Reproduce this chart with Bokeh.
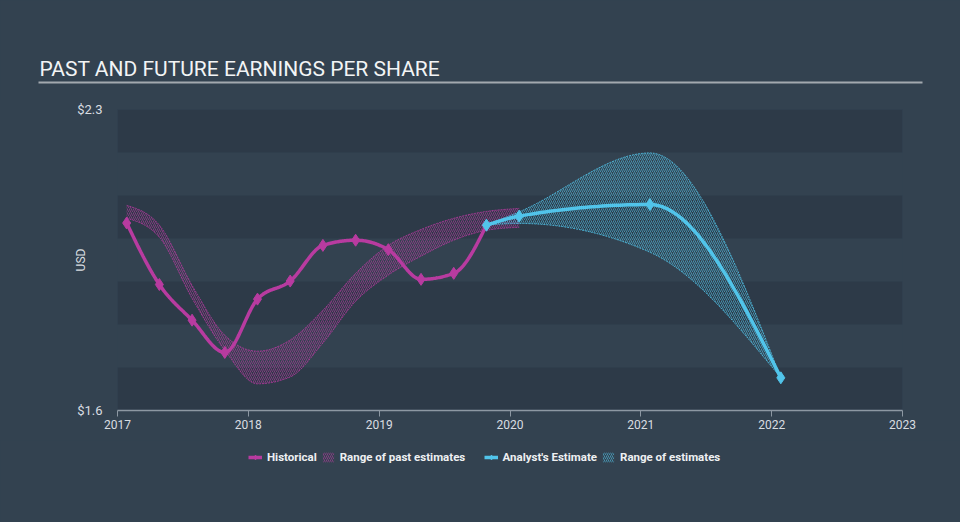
import numpy as np
from bokeh.plotting import figure
from bokeh.layouts import column
from bokeh.models import (Range1d, FixedTicker, NumeralTickFormatter,
                          BoxAnnotation, Legend, LegendItem)
from bokeh.core.properties import value
from bokeh.embed import file_html
from bokeh.resources import INLINE

# ---------------- data ----------------
hist_dates = [2017.07, 2017.32, 2017.57, 2017.82, 2018.07, 2018.32, 2018.57,
              2018.82, 2019.07, 2019.32, 2019.57, 2019.82]
hist_eps = [2.036, 1.893, 1.810, 1.735, 1.859, 1.901, 1.984, 1.996, 1.974,
            1.905, 1.919, 2.031]

past_dates = [2017.07, 2017.32, 2017.57, 2017.82, 2018.07, 2018.32, 2018.57,
              2018.82, 2019.07, 2019.32, 2019.57, 2019.82, 2020.07]
past_high = [2.077, 2.031, 1.891, 1.775, 1.738, 1.764, 1.833, 1.919, 1.984,
             2.021, 2.047, 2.063, 2.070]
past_low = [2.047, 2.003, 1.861, 1.740, 1.662, 1.678, 1.757, 1.854, 1.915,
            1.959, 1.996, 2.019, 2.026]

fc_dates = [2019.82, 2020.07, 2021.07, 2022.07]
fc_eps = [2.031, 2.052, 2.079, 1.676]
fc_high = [2.031, 2.062, 2.199, 1.676]
fc_low = [2.031, 2.035, 1.968, 1.676]

year_ticks = [2017, 2018, 2019, 2020, 2021, 2022, 2023]
y_label_ticks = [1.6, 2.3]
band_edges = [1.6, 1.7, 1.8, 1.9, 2.0, 2.1, 2.2, 2.3]

TITLE = "PAST AND FUTURE EARNINGS PER SHARE"
legend_labels = ["Historical", "Range of past estimates",
                 "Analyst's Estimate", "Range of estimates"]

# ---------------- styling ----------------
W = 960
TOP_H, MAIN_H, BOT_H = 100, 340, 82
BG = "#334250"
BAND_DARK = "#2d3a48"
MAG = "#b83ba0"
BLUE = "#51c4ea"
TXT = "#d9dde1"
FONT = "Roboto"
CSS_BG = {"background-color": BG}


def monotone_curve(xs, ys, n=30):
    """Monotone cubic (d3 curveMonotoneX style) rendering of a series."""
    x = np.asarray(xs, float)
    y = np.asarray(ys, float)
    h = np.diff(x)
    s = np.diff(y) / h
    m = len(x)
    t = np.zeros(m)
    sg = lambda v: -1.0 if v < 0 else 1.0
    for i in range(1, m - 1):
        p = (s[i - 1] * h[i] + s[i] * h[i - 1]) / (h[i - 1] + h[i])
        t[i] = (sg(s[i - 1]) + sg(s[i])) * min(abs(s[i - 1]), abs(s[i]), 0.5 * abs(p))
    if m > 2:
        t[0] = (3 * s[0] - t[1]) / 2
        t[-1] = (3 * s[-1] - t[-2]) / 2
    else:
        t[:] = s[0]
    u = np.linspace(0, 1, n + 1)[1:]
    ox, oy = [x[0]], [y[0]]
    for i in range(m - 1):
        h00 = 2 * u**3 - 3 * u**2 + 1
        h10 = u**3 - 2 * u**2 + u
        h01 = -2 * u**3 + 3 * u**2
        h11 = u**3 - u**2
        yy = h00 * y[i] + h10 * h[i] * t[i] + h01 * y[i + 1] + h11 * h[i] * t[i + 1]
        xx = x[i] + u * h[i]
        ox.extend(xx.tolist())
        oy.extend(yy.tolist())
    return ox, oy


def blank(height, xr, yr):
    f = figure(width=W, height=height, output_backend="svg", toolbar_location=None,
               x_axis_type=None, y_axis_type=None, x_range=xr, y_range=yr,
               min_border=0, frame_align=False, styles=CSS_BG)
    f.border_fill_color = None
    f.background_fill_color = BG
    f.outline_line_color = None
    f.grid.grid_line_color = None
    return f


band_style = dict(hatch_pattern="/", hatch_alpha=0.6, hatch_scale=4,
                  hatch_weight=1, fill_alpha=0.0)

# ---------------- title strip ----------------
top = blank(TOP_H, Range1d(0, W), Range1d(TOP_H, 0))
top.text(x=[39], y=[68], text=[TITLE], text_font=value(FONT),
         text_font_size="21px", text_color="#f2f4f5", text_baseline="alphabetic")
top.segment(x0=[38], y0=[82], x1=[922], y1=[82], line_color="#a3a9af", line_width=2)

# ---------------- main chart ----------------
p = figure(width=W, height=MAIN_H, output_backend="svg", toolbar_location=None,
           x_range=Range1d(year_ticks[0], year_ticks[-1]),
           y_range=Range1d(band_edges[0], band_edges[-1]),
           min_border_left=117, min_border_right=58,
           min_border_top=9, min_border_bottom=30,
           frame_align=False, styles=CSS_BG)
p.border_fill_color = None
p.background_fill_color = BG
p.outline_line_color = None
p.xgrid.grid_line_color = None
p.ygrid.grid_line_color = None

for i in range(0, len(band_edges) - 1, 2):
    p.add_layout(BoxAnnotation(bottom=band_edges[i], top=band_edges[i + 1],
                               fill_color=BAND_DARK, fill_alpha=1.0,
                               line_color=None, level="underlay"))

px, ph = monotone_curve(past_dates, past_high)
_, pl = monotone_curve(past_dates, past_low)
p.varea(x=px, y1=pl, y2=ph, fill_color=MAG, hatch_color=MAG, **band_style)
p.line(px, ph, line_color=MAG, line_width=1, line_dash="2 1", line_alpha=0.8)
p.line(px, pl, line_color=MAG, line_width=1, line_dash="2 1", line_alpha=0.8)

fx, fh = monotone_curve(fc_dates, fc_high)
_, fl = monotone_curve(fc_dates, fc_low)
p.varea(x=fx, y1=fl, y2=fh, fill_color=BLUE, hatch_color=BLUE, **band_style)
p.line(fx, fh, line_color=BLUE, line_width=1, line_dash="2 1", line_alpha=0.8)
p.line(fx, fl, line_color=BLUE, line_width=1, line_dash="2 1", line_alpha=0.8)

hx, hy = monotone_curve(hist_dates, hist_eps)
p.line(hx, hy, line_color=MAG, line_width=3.5)
p.scatter(hist_dates, hist_eps, marker="diamond", size=12, color=MAG)

ax_, ay_ = monotone_curve(fc_dates, fc_eps)
p.line(ax_, ay_, line_color=BLUE, line_width=3.5)
p.scatter(fc_dates, fc_eps, marker="diamond", size=12, color=BLUE)

xa = p.xaxis[0]
xa.ticker = FixedTicker(ticks=year_ticks)
xa.axis_line_color = "#8d98a3"
xa.axis_line_width = 1.5
xa.major_tick_line_color = "#8d98a3"
xa.major_tick_out = 6
xa.major_tick_in = 0
xa.minor_tick_line_color = None
xa.major_label_text_color = TXT
xa.major_label_text_font = FONT
xa.major_label_text_font_size = "12px"
xa.major_label_standoff = 3

ya = p.yaxis[0]
ya.ticker = FixedTicker(ticks=y_label_ticks)
ya.formatter = NumeralTickFormatter(format="$0.0")
ya.axis_line_color = None
ya.major_tick_line_color = None
ya.minor_tick_line_color = None
ya.major_tick_out = 0
ya.major_label_standoff = 15
ya.major_label_text_color = TXT
ya.major_label_text_font = FONT
ya.major_label_text_font_size = "13px"
ya.axis_label = "USD"
ya.axis_label_text_color = TXT
ya.axis_label_text_font = FONT
ya.axis_label_text_font_style = "normal"
ya.axis_label_text_font_size = "12px"
ya.axis_label_standoff = -14

# ---------------- legend strip (proxy renderers sit outside its view) ----------------
bot = blank(BOT_H, Range1d(0, 1), Range1d(0, 1))
lh_line = bot.line(hist_dates[:2], hist_eps[:2], line_color=MAG, line_width=3.5)
lh_pts = bot.scatter(hist_dates[:1], hist_eps[:1], marker="diamond", size=12, color=MAG)
lp_band = bot.varea(x=past_dates[:2], y1=past_low[:2], y2=past_high[:2],
                    fill_color=MAG, hatch_color=MAG, **band_style)
la_line = bot.line(fc_dates[:2], fc_eps[:2], line_color=BLUE, line_width=3.5)
la_pts = bot.scatter(fc_dates[:1], fc_eps[:1], marker="diamond", size=12, color=BLUE)
lf_band = bot.varea(x=fc_dates[:2], y1=fc_low[:2], y2=fc_high[:2],
                    fill_color=BLUE, hatch_color=BLUE, **band_style)

legend = Legend(items=[
    LegendItem(label=legend_labels[0], renderers=[lh_line, lh_pts]),
    LegendItem(label=legend_labels[1] + "     ", renderers=[lp_band]),
    LegendItem(label=legend_labels[2], renderers=[la_line, la_pts]),
    LegendItem(label=legend_labels[3], renderers=[lf_band]),
], orientation="horizontal", location=(248, 58),
    background_fill_alpha=0, border_line_color=None,
    label_text_color="#eef0f2", label_text_font=FONT,
    label_text_font_size="11.5px", label_text_font_style="bold",
    glyph_width=14, glyph_height=12, label_height=12, label_standoff=5,
    spacing=4, padding=0, margin=0)
bot.add_layout(legend)

layout = column(top, p, bot, spacing=0, styles=CSS_BG)
open("out.html", "w").write(file_html(layout, INLINE))
